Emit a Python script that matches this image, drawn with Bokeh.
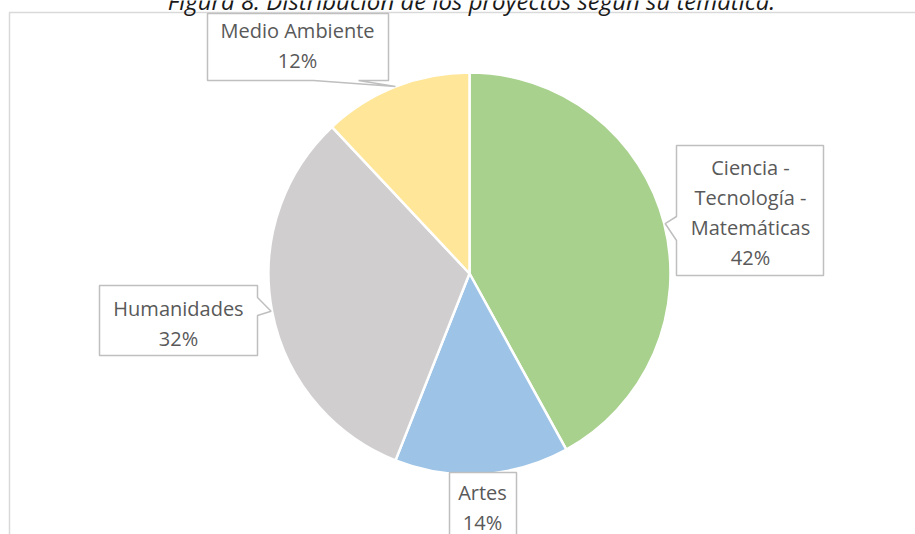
import math
from bokeh.plotting import figure
from bokeh.models import Range1d
from bokeh.core.properties import value
from bokeh.embed import file_html
from bokeh.resources import INLINE

# ---- data ----
categories = ["Ciencia - Tecnología - Matemáticas", "Artes", "Humanidades", "Medio Ambiente"]
label_lines = [["Ciencia -", "Tecnología -", "Matemáticas"], ["Artes"], ["Humanidades"], ["Medio Ambiente"]]
percents = [42, 14, 32, 12]
colors = ["#A9D18E", "#9DC3E6", "#D0CECE", "#FFE699"]
title_text = "Figura 8. Distribución de los proyectos según su temática."

W, H = 915, 534
p = figure(width=W, height=H, output_backend="svg", toolbar_location=None,
           x_range=Range1d(0, W), y_range=Range1d(0, H), min_border=0)
p.axis.visible = False
p.grid.visible = False
p.outline_line_color = None
p.background_fill_color = "white"
p.border_fill_color = "white"

def sx(x):
    return x

def sy(y):
    return H - y

FONT = "Open Sans"
TXT = "#595959"

# frame
p.line([sx(9), sx(9), sx(915)], [sy(540), sy(12), sy(12)], line_color="#D9D9D9", line_width=1.5)

# pie
cx, cy, R = 469, 273, 201
total = sum(percents)
starts, ends, mids = [], [], []
cum = 0
for v in percents:
    a0 = 90 - cum / total * 360
    cum += v
    a1 = 90 - cum / total * 360
    starts.append(math.radians(a0))
    ends.append(math.radians(a1))
    mids.append(math.radians((a0 + a1) / 2))

p.wedge(x=[sx(cx)] * 4, y=[sy(cy)] * 4, radius=R, start_angle=starts, end_angle=ends,
        direction="clock", fill_color=colors, line_color="white", line_width=2.5)

def tip(i):
    return sx(cx) + R * math.cos(mids[i]), sy(cy) + R * math.sin(mids[i])

BORDER = "#BFBFBF"

def callout(poly):
    xs = [sx(a) if not isinstance(a, tuple) else a[0] for a, b in poly]
    ys = [sy(b) if not isinstance(b, tuple) else b[0] for a, b in poly]
    p.patch(xs, ys, fill_color="white", line_color=BORDER, line_width=1.5)

def draw_text(x, y_first, lines, pct):
    allv = lines + [f"{pct}%"]
    for k, t in enumerate(allv):
        p.text(x=[sx(x)], y=[sy(y_first + 30 * k)], text=[t], text_font=value(FONT),
               text_font_size="20px", text_color=TXT, text_align="center",
               text_baseline="middle")

# Ciencia (index 0): box with pointer on left
tx, ty = tip(0)
callout([(676, 145), (823, 145), (823, 275), (676, 275), (676, 240),
         ((tx + 1,), (ty,)), (676, 216)])
draw_text(750, 167, label_lines[0], percents[0])

# Artes (index 1): box below
callout([(449, 472), (516, 472), (516, 560), (449, 560)])
draw_text(482, 492, label_lines[1], percents[1])

# Humanidades (index 2): pointer on right
tx, ty = tip(2)
callout([(99, 285), (257, 285), (257, 297), ((tx - 1,), (ty,)), (257, 315),
         (257, 355), (99, 355)])
draw_text(178, 308, label_lines[2], percents[2])

# Medio Ambiente (index 3): pointer on bottom
tx, ty = tip(3)
callout([(207, 13), (388, 13), (388, 80), (358, 80), ((tx,), (ty,)), (313, 80), (207, 80)])
draw_text(297, 30, label_lines[3], percents[3])

# title (partially cut at top, as in reference)
p.text(x=[sx(471)], y=[sy(0)], text=[title_text], text_font=value(FONT),
       text_font_size="24px", text_font_style="italic", text_color="#1a1a1a",
       text_align="center", text_baseline="alphabetic")

open("out.html", "w").write(file_html(p, INLINE))
